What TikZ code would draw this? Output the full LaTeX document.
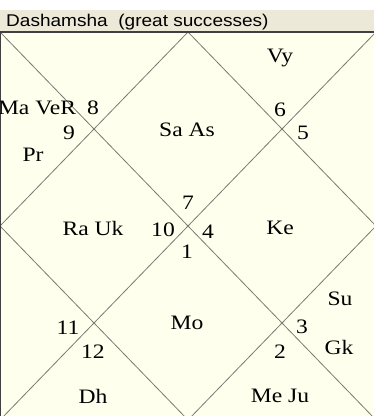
\documentclass[tikz,border=0pt]{standalone}
\usepackage{fontspec}
\setmainfont{Liberation Serif}[FakeStretch=1.15]
\setsansfont{Liberation Sans}[FakeStretch=1.12]
\usetikzlibrary{positioning}
\definecolor{barbg}{HTML}{ECE9D8}
\definecolor{chartbg}{HTML}{FFFFEE}
\definecolor{gridln}{HTML}{7A7A72}

\begin{document}
\begin{tikzpicture}[
  x=1pt, y=-1pt,
  lbl/.style={font=\fontsize{20.5}{20.5}\selectfont, inner sep=0pt},
  gridline/.style={draw=gridln, line width=0.8pt},
  frame/.style={draw=black!75, line width=1.4pt}
]
\clip (0,0) rectangle (374,416);
% title bar
\fill[barbg] (0,10) rectangle (374,32);
\node[anchor=base west, inner sep=0pt, font=\sffamily\fontsize{17}{17}\selectfont] (title) at (6,26) {Dashamsha\ \ (great successes)};

% chart corners and diamond tips
\coordinate (tl) at (0,32);
\coordinate (tr) at (376,32);
\coordinate (bl) at (0,420);
\coordinate (br) at (376,420);
\coordinate (tm) at (188,32);
\coordinate (lm) at (0,226);
\coordinate (rm) at (376,226);
\coordinate (bm) at (188,420);
\fill[chartbg] (tl) rectangle (br);
\draw[gridline] (tl) -- (br);
\draw[gridline] (tr) -- (bl);
\draw[gridline] (tm) -- (rm) -- (bm) -- (lm) -- cycle;
\draw[frame] (bl) -- (tl) -- (tr);

% house numbers
\node[lbl] (h1) at (187,252) {1};
\node[lbl] (h2) at (280,352) {2};
\node[lbl] (h3) at (302,327) {3};
\node[lbl] (h4) at (208,232) {4};
\node[lbl] (h5) at (303,133) {5};
\node[lbl] (h6) at (280,110) {6};
\node[lbl] (h7) at (188,203) {7};
\node[lbl] (h8) at (93,108) {8};
\node[lbl] (h9) at (69,133) {9};
\node[lbl] (h10) at (163,230) {10};
\node[lbl] (h11) at (68,328) {11};
\node[lbl] (h12) at (93,352) {12};

% planets
\node[lbl] (p1) at (187,130) {Sa As};
\node[lbl] (p2) at (280,58) {Vy};
\node[lbl] (p3) at (37,108) {Ma VeR};
\node[lbl] (p4) at (33,155) {Pr};
\node[lbl] (p5) at (93,228) {Ra Uk};
\node[lbl] (p6) at (280,228) {Ke};
\node[lbl] (p7) at (187,323) {Mo};
\node[lbl] (p8) at (340,299) {Su};
\node[lbl] (p9) at (339,347) {Gk};
\node[lbl] (p10) at (93,396) {Dh};
\node[lbl] (p11) at (280,396) {Me Ju};
\end{tikzpicture}
\end{document}
